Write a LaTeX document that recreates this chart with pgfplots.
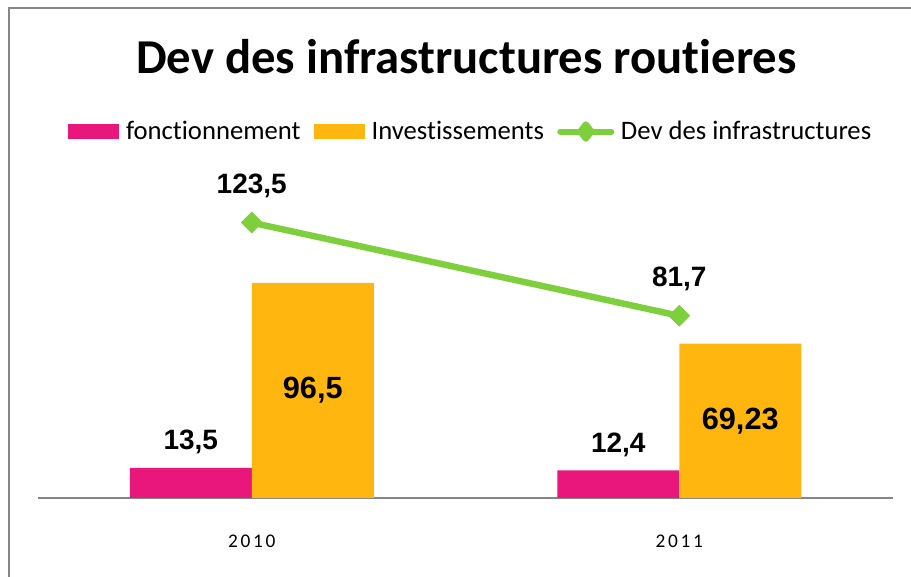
\documentclass[border=0pt]{standalone}
\usepackage{pgfplots}
\pgfplotsset{compat=1.18}
\usepackage{fontspec}
\setmainfont{Carlito}[Ligatures=NoCommon]
\newfontfamily\lab{Liberation Sans}
\newfontfamily\yearfont{Carlito}[LetterSpace=14]
\definecolor{cmag}{RGB}{233,23,123}
\definecolor{corange}{RGB}{255,183,15}
\definecolor{cgreen}{RGB}{125,207,60}
\definecolor{cgray}{RGB}{134,134,134}
\begin{document}
\begin{tikzpicture}
\useasboundingbox (0pt,0pt) rectangle (683.25pt,432.75pt);
\draw[cgray, line width=1pt] (6.75pt,-5pt) -- (6.75pt,426.75pt) -- (690pt,426.75pt);
\node[anchor=base, inner sep=0pt, font=\fontsize{36.5}{40}\selectfont\bfseries] at (349.9pt,377.25pt) {Dev des infrastructures routieres};
\begin{axis}[
  at={(28.5pt,59.25pt)}, anchor=south west,
  scale only axis, width=641.25pt, height=334.5pt,
  xmin=-0.5, xmax=1.5, ymin=0, ymax=200,
  axis x line*=bottom, axis y line=none,
  x axis line style={cgray, line width=1.5pt},
  ytick=\empty, xtick={0,1}, xticklabels={2010,2011},
  major tick length=0pt,
  xticklabel style={anchor=base, yshift=-37.5pt, font=\yearfont\fontsize{14.5}{16}\selectfont},
  ybar=0pt, bar width=91.5pt,
  clip=false,
  legend columns=3,
  legend style={at={(0.505,0.8217)}, anchor=center, draw=none, fill=none,
     font=\fontsize{20}{24}\selectfont, inner sep=0pt,
     nodes={inner sep=0pt},
     /tikz/every odd column/.style={column sep=5pt},
     /tikz/every even column/.style={column sep=10pt}},
  /pgf/number format/.cd, use comma, fixed, precision=2, assume math mode=true,
]
\addplot[fill=cmag, draw=none,
  legend image code/.code={\fill[cmag] (0pt,-5.6pt) rectangle (38.25pt,5.6pt);},
  nodes near coords,
  every node near coord/.append style={anchor=base, yshift=13.5pt, font=\lab\bfseries\fontsize{21}{24}\selectfont}]
  coordinates {(0,13.5) (1,12.4)};
\addlegendentry{fonctionnement}
\addplot[fill=corange, draw=none,
  legend image code/.code={\fill[corange] (0pt,-5.6pt) rectangle (38.25pt,5.6pt);},
  nodes near coords,
  visualization depends on=y \as \rawy,
  every node near coord/.append style={anchor=center, shift={(axis direction cs:0,-\rawy/2)}, font=\lab\bfseries\fontsize{23}{26}\selectfont}]
  coordinates {(0,96.5) (1,69.23)};
\addlegendentry{Investissements}
\addplot[sharp plot, color=cgreen, line width=4.8pt, line join=round,
  mark=square*, mark size=5.5pt, mark options={rotate=45, solid, fill=cgreen, draw=cgreen, line width=0.5pt},
  legend image code/.code={\draw[cgreen, line width=4.5pt, line cap=round] (2.25pt,0pt)--(40.5pt,0pt);
     \fill[cgreen] (21.4pt,5.25pt)--(25.4pt,0pt)--(21.4pt,-5.25pt)--(17.4pt,0pt)--cycle;},
  nodes near coords,
  every node near coord/.append style={anchor=base, yshift=21.75pt, text=black, font=\lab\bfseries\fontsize{21}{24}\selectfont}]
  coordinates {(0,123.5) (1,81.7)};
\addlegendentry{Dev des infrastructures}
\end{axis}
\end{tikzpicture}
\end{document}
